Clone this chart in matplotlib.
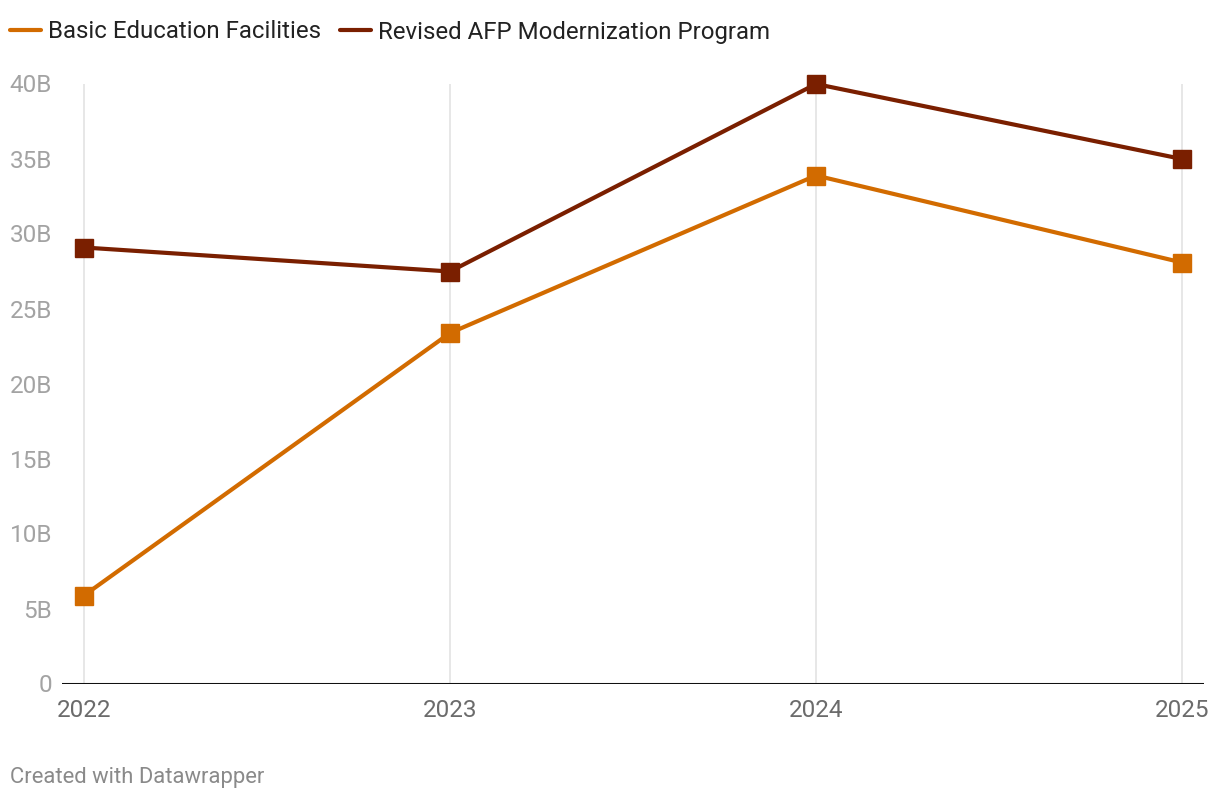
import matplotlib
matplotlib.use('Agg')
import matplotlib.pyplot as plt
from matplotlib.lines import Line2D

plt.rcParams['font.family'] = ['Roboto', 'DejaVu Sans']

years = [2022, 2023, 2024, 2025]
basic_edu = [5.9, 23.4, 33.9, 28.1]
afp_modern = [29.1, 27.5, 40.0, 35.0]
series_names = ['Basic Education Facilities', 'Revised AFP Modernization Program']
y_ticks = [0, 5, 10, 15, 20, 25, 30, 35, 40]
y_labels = ['0', '5B', '10B', '15B', '20B', '25B', '30B', '35B', '40B']

C = {
    'edu': '#d26b00',
    'afp': '#7a1f00',
    'grid': '#e3e3e3',
    'ytick': '#a3a3a3',
    'xtick': '#6b6b6b',
    'text': '#222222',
    'foot': '#8a8a8a',
}

W, H = 1220, 800
fig = plt.figure(figsize=(W / 100, H / 100), dpi=100)
fig.patch.set_facecolor('white')

# axes spans the black baseline: x 62..1204, y 84..684 (px from top)
ax = fig.add_axes([62 / W, 116 / H, 1142 / W, 600 / H])
pad = 22 / 366
ax.set_xlim(years[0] - pad, years[-1] + pad)
ax.set_ylim(0, 40)
for s in ax.spines.values():
    s.set_visible(False)
ax.axhline(0, color='#111111', lw=2.2, zorder=2)

for yr in years:
    ax.plot([yr, yr], [0, 40], color=C['grid'], lw=1.2, zorder=1)

for vals, col in [(basic_edu, C['edu']), (afp_modern, C['afp'])]:
    ax.plot(years, vals, color=col, lw=3, marker='s', markersize=13,
            clip_on=False, zorder=3)

ax.set_xticks(years)
ax.set_xticklabels([str(y) for y in years])
ax.set_yticks(y_ticks)
ax.set_yticklabels([])
ax.tick_params(axis='x', length=0, pad=11, labelsize=17.5, labelcolor=C['xtick'])
ax.tick_params(axis='y', length=0)

# y labels right-aligned near the left edge
for v, lab in zip(y_ticks, y_labels):
    ax.text(52 / W, (116 + v * 15 - 2) / H, lab, transform=fig.transFigure,
            ha='right', va='center', fontsize=17.5, color=C['ytick'])

# legend drawn by hand
leg = [(10, series_names[0], C['edu']), (340, series_names[1], C['afp'])]
for x0, name, col in leg:
    fig.add_artist(Line2D([x0 / W, (x0 + 31) / W], [1 - 30 / H, 1 - 30 / H],
                          color=col, lw=3, solid_capstyle='round'))
    fig.text((x0 + 38) / W, 1 - 32 / H, name, ha='left', va='center',
             fontsize=17.3, color=C['text'])

fig.text(10 / W, 1 - 778 / H, 'Created with Datawrapper', ha='left', va='center',
         fontsize=15.8, color=C['foot'])

fig.savefig('out.png', dpi=100, facecolor='white')
